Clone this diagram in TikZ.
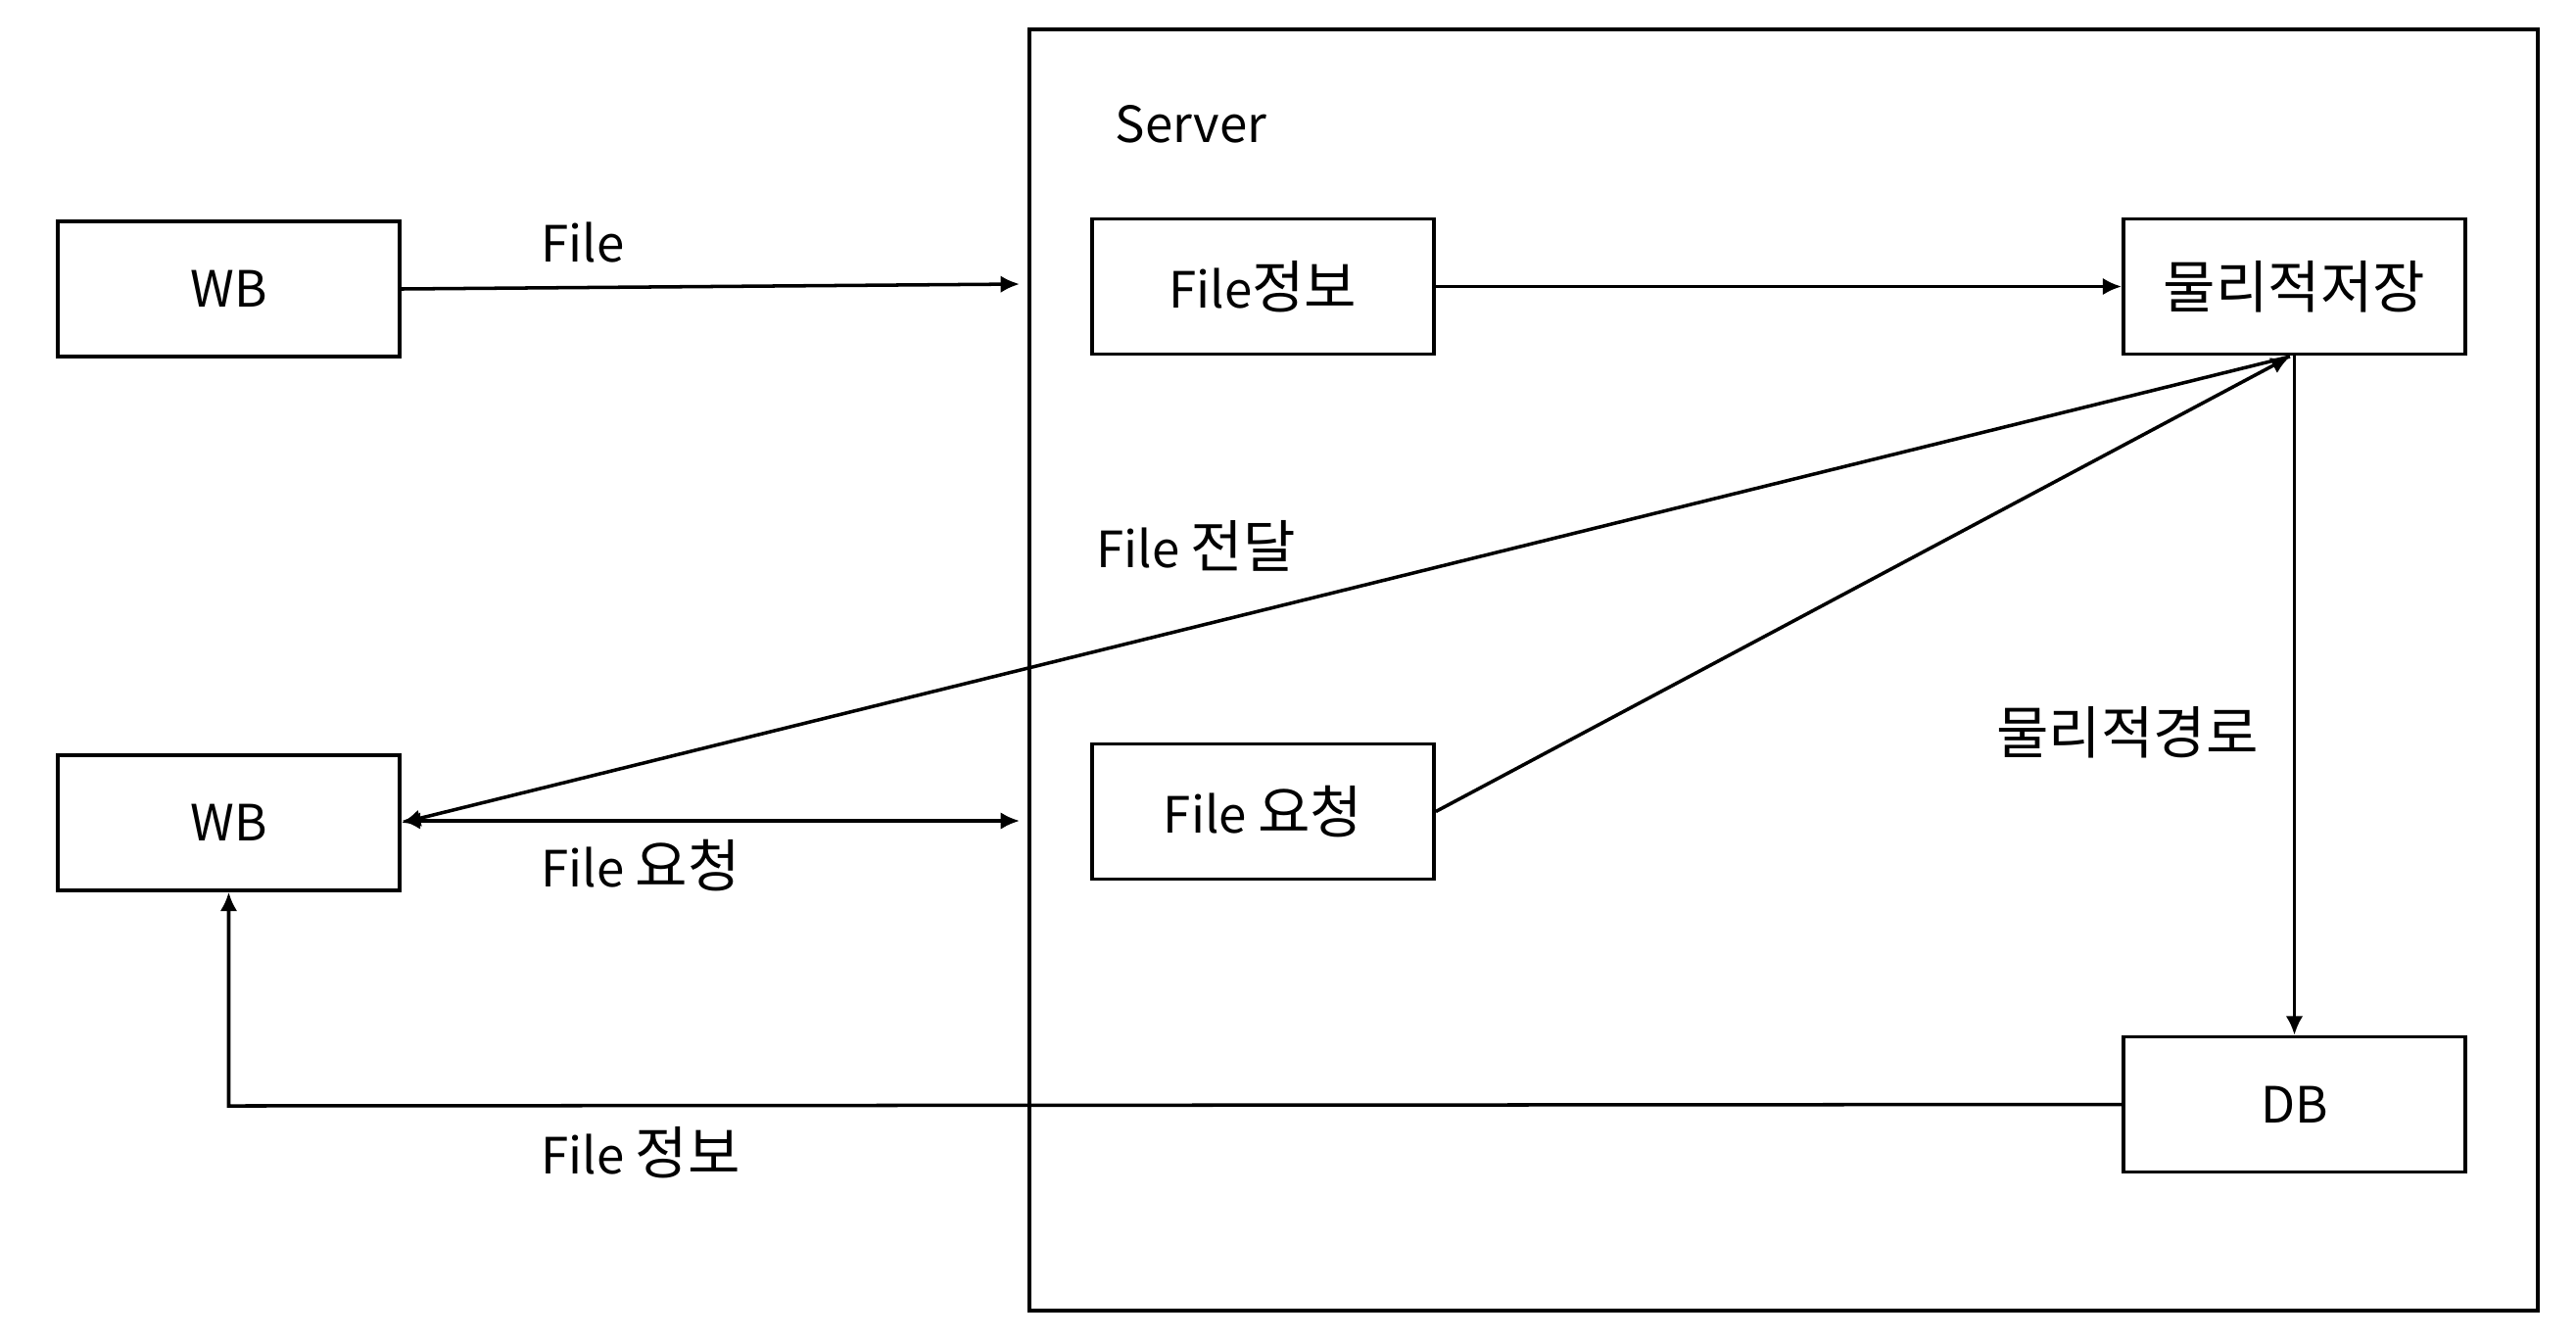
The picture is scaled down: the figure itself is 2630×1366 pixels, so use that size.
\documentclass[tikz,border=0pt]{standalone}
\usepackage{fontspec}
\setmainfont{Noto Sans CJK KR}
\newfontfamily\kr[Scale=1.14]{Noto Sans CJK KR}
\usetikzlibrary{arrows.meta}
\begin{document}
\begin{tikzpicture}[x=0.01cm,y=-0.01cm,
  box/.style={draw,line width=1pt,minimum width=3.49cm,minimum height=1.38cm,inner sep=0pt,font=\fontsize{14.5}{17}\selectfont},
  lbl/.style={inner sep=0pt,font=\fontsize{14.5}{17}\selectfont},
  conn/.style={line width=1pt,-{Latex[length=5.5pt,width=5pt]}},
  dconn/.style={line width=1pt,{Latex[length=5.5pt,width=5pt]}-{Latex[length=5.5pt,width=5pt]}}]
\useasboundingbox (0,0) rectangle (2630,1366);
\draw[line width=1pt] (1051,30) rectangle (2591,1338);
\node[lbl,anchor=west] (server) at (1138,127) {Server};
\node[box] (wb1) at (233.5,295) {WB};
\node[box] (wb2) at (233.5,840) {WB};
\node[box] (finfo) at (1289.5,292.5) {File{\kr 정보}};
\node[box] (store) at (2342.5,292.5) {\kr 물리적저장};
\node[box] (freq) at (1289.5,828.5) {File {\kr 요청}};
\node[box] (db) at (2342.5,1127.5) {DB};
\coordinate (in1) at (1041,290);
\coordinate (in2) at (1041,838);
\coordinate (sb) at (2338,364);
\coordinate (corner) at (233.5,1129);
\draw[conn] (wb1.east) -- (in1);
\draw[conn] (finfo.east) -- (store.west);
\draw[conn] (store.south) -- (db.north);
\draw[conn] (freq.east) -- (sb);
\draw[conn] (sb) -- (wb2.east);
\draw[dconn] (wb2.east |- in2) -- (in2);
\draw[conn] (db.west) -- (corner) -- (wb2.south);
\node[lbl] (l1) at (595,248) {File};
\node[lbl] (l2) at (1221,557) {File {\kr 전달}};
\node[lbl] (l3) at (654,884) {File {\kr 요청}};
\node[lbl] (l4) at (654,1177) {File {\kr 정보}};
\node[lbl] (l5) at (2172,748) {\kr 물리적경로};
\end{tikzpicture}
\end{document}
